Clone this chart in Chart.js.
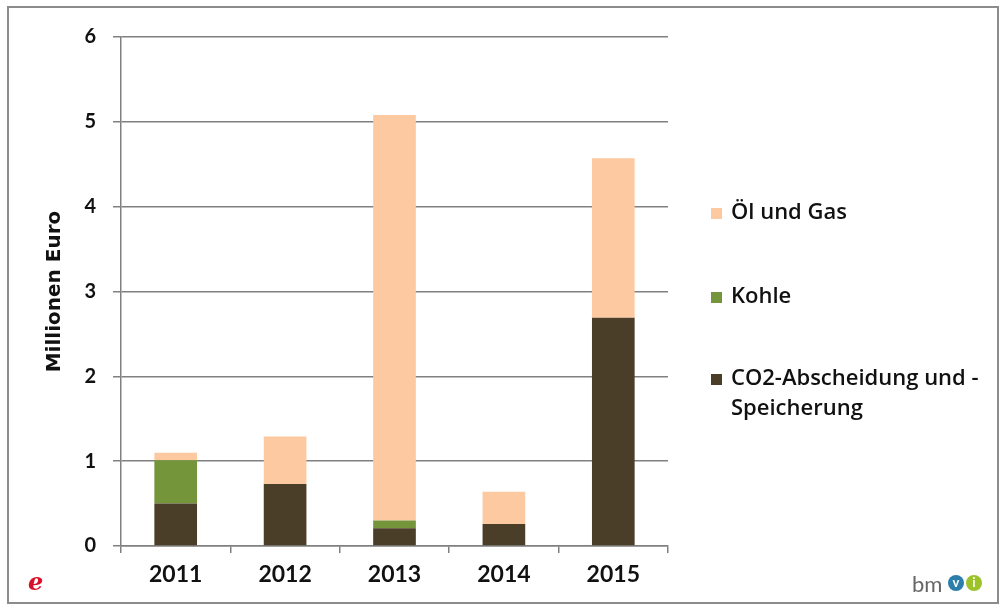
<!DOCTYPE html>
<html><head><meta charset="utf-8">
<script src="https://cdn.jsdelivr.net/npm/chart.js@4/dist/chart.umd.min.js"></script>
<style>html,body{margin:0;padding:0;background:#fff}#wrap{width:1002px;height:608px;position:relative}</style>
</head><body><div id="wrap"><canvas id="c" width="1002" height="608"></canvas></div>
<script>
const categories = ['2011','2012','2013','2014','2015'];
const co2Values = [0.5, 0.73, 0.21, 0.26, 2.69];
const kohleValues = [0.51, 0, 0.09, 0, 0];
const oelValues = [0.09, 0.56, 4.78, 0.38, 1.88];
const yTicks = [0,1,2,3,4,5,6];
const seriesNames = ['CO2-Abscheidung und -\nSpeicherung', 'Kohle', 'Öl und Gas'];
const seriesColors = ['#4b3e28', '#74953a', '#fcc9a1'];

const FONT = 'Lato, "Open Sans", sans-serif';
const LEGEND_FONT = '"Open Sans", Lato, sans-serif';

const framePlugin = {
  id: 'frame',
  beforeDraw(chart) {
    const ctx = chart.ctx;
    ctx.save();
    ctx.fillStyle = '#fff';
    ctx.fillRect(0,0,chart.width,chart.height);
    ctx.strokeStyle = '#8c8c8c';
    ctx.lineWidth = 2;
    ctx.strokeRect(8, 7, 990, 596);
    ctx.restore();
  },
  afterDraw(chart) {
    const ctx = chart.ctx;
    ctx.save();
    const items = [
      {i:2, y:[213]},
      {i:1, y:[297]},
      {i:0, y:[379, 409]}
    ];
    ctx.font = '600 22px ' + LEGEND_FONT;
    ctx.textBaseline = 'middle';
    ctx.textAlign = 'left';
    items.forEach(it => {
      ctx.fillStyle = seriesColors[it.i];
      ctx.fillRect(711, it.y[0]-5, 11, 11);
      ctx.fillStyle = '#111';
      const lines = seriesNames[it.i].split('\n');
      lines.forEach((l, k) => ctx.fillText(l, 731, it.y[k]));
    });
    // logos
    ctx.font = 'italic bold 24px "DejaVu Serif", serif';
    ctx.fillStyle = '#d8102a';
    ctx.fillText('e', 28, 584);
    ctx.font = '22px ' + FONT;
    ctx.fillStyle = '#666';
    ctx.fillText('bm', 912, 585);
    ctx.fillStyle = '#2b7fa8';
    ctx.beginPath(); ctx.arc(956, 583, 8, 0, Math.PI*2); ctx.fill();
    ctx.fillStyle = '#9cc32a';
    ctx.beginPath(); ctx.arc(974, 583, 8, 0, Math.PI*2); ctx.fill();
    ctx.fillStyle = '#fff';
    ctx.font = 'bold 13px ' + FONT;
    ctx.textAlign = 'center';
    ctx.fillText('v', 956, 583);
    ctx.fillText('i', 974, 583);
    ctx.restore();
  }
};

new Chart(document.getElementById('c'), {
  type: 'bar',
  data: {
    labels: categories,
    datasets: [
      {label: seriesNames[0], data: co2Values, backgroundColor: seriesColors[0]},
      {label: seriesNames[1], data: kohleValues, backgroundColor: seriesColors[1]},
      {label: seriesNames[2], data: oelValues, backgroundColor: seriesColors[2]}
    ]
  },
  options: {
    responsive: false,
    animation: false,
    layout: {padding: {left: 40, right: 334, top: 37, bottom: 0}},
    datasets: {bar: {categoryPercentage: 1, barPercentage: 0.39}},
    plugins: {legend: {display: false}, tooltip: {enabled: false}},
    scales: {
      x: {
        stacked: true,
        afterFit(s) { s.height = 62; },
        grid: {display: true, drawOnChartArea: false, drawTicks: true, tickLength: 7, color: '#808080', lineWidth: 1.5, offset: true},
        border: {color: '#808080', width: 1.5},
        ticks: {color: '#111', font: {family: FONT, size: 23, weight: 'bold'}, padding: 8}
      },
      y: {
        stacked: true,
        min: 0, max: 6,
        afterFit(s) { s.width = 81; },
        afterBuildTicks(s) { s.ticks = yTicks.map(v => ({value: v})); },
        grid: {color: '#808080', lineWidth: 1.5, tickLength: 8},
        border: {color: '#808080', width: 1.5},
        ticks: {color: '#111', font: {family: FONT, size: 20, weight: 'bold'}, padding: 17},
        title: {display: true, text: 'Millionen Euro', color: '#111', font: {family: '"DejaVu Sans", sans-serif', size: 20, weight: 'bold'}, padding: {top: 3, bottom: 0}}
      }
    }
  },
  plugins: [framePlugin]
});
</script></body></html>
